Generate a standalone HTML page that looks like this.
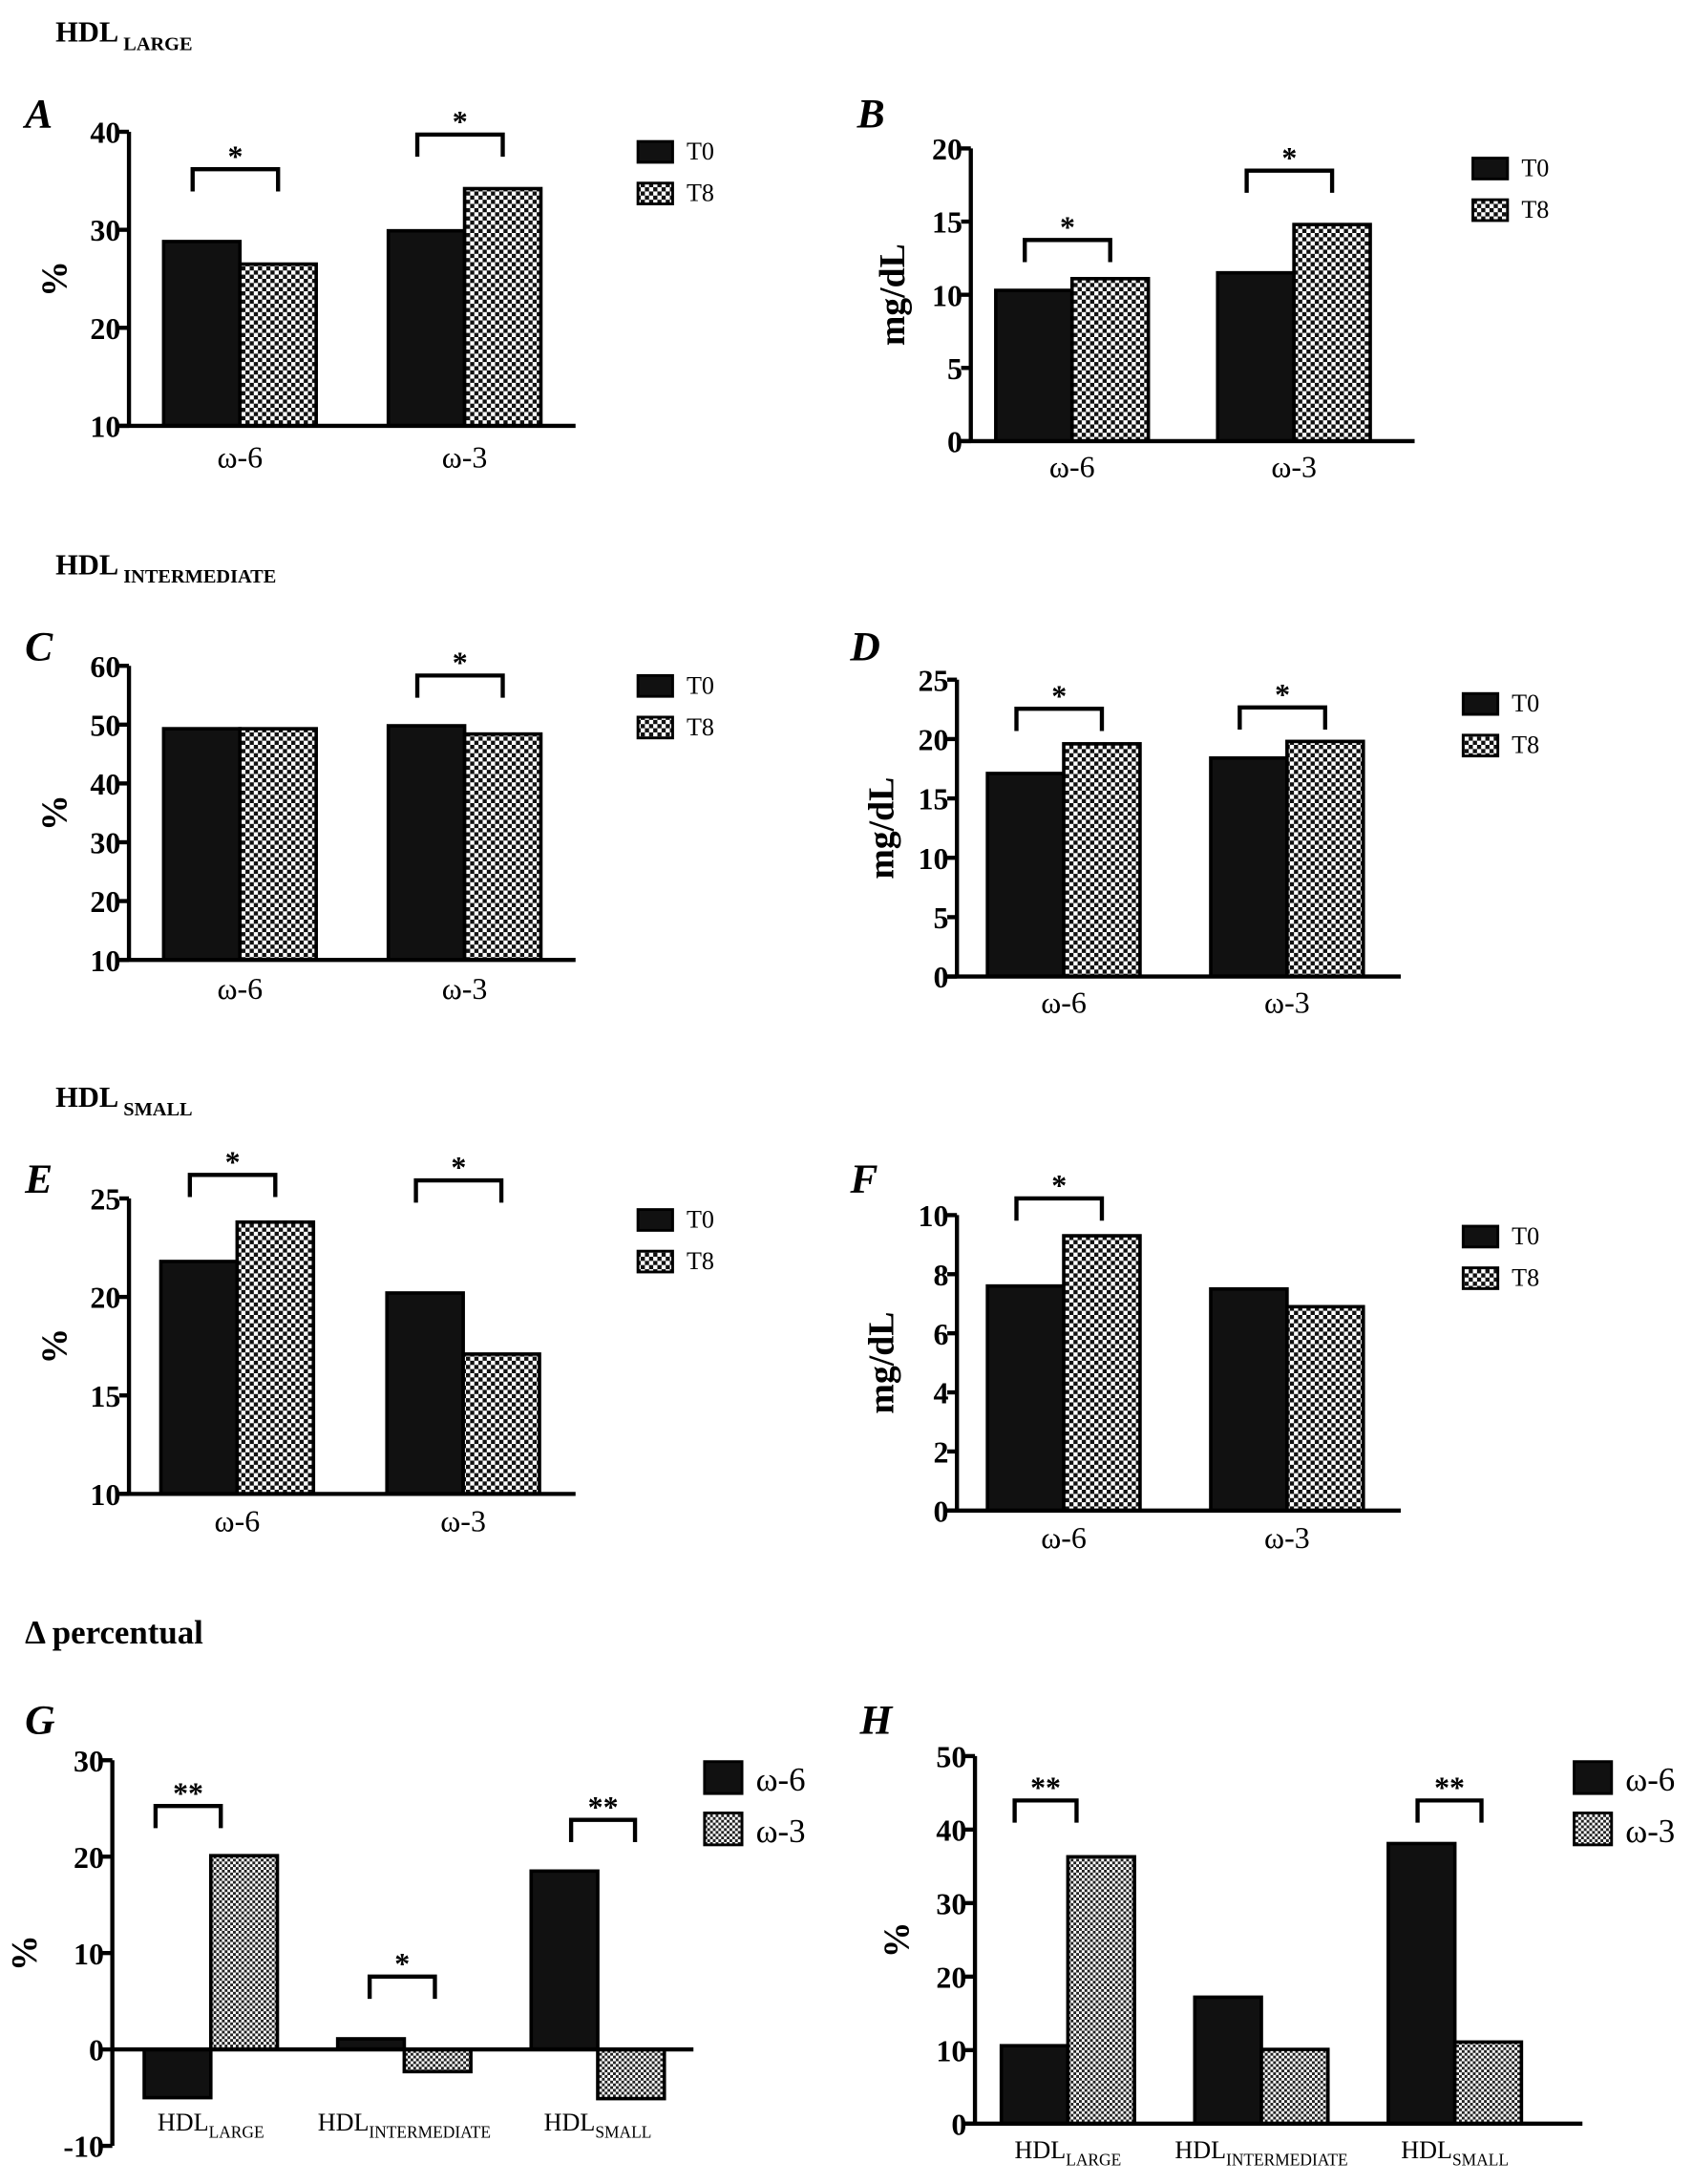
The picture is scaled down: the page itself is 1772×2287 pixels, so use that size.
<!DOCTYPE html>
<html><head><meta charset="utf-8"><style>
html,body{margin:0;padding:0;background:#fff;}
svg{display:block;}
text{font-family:"Liberation Serif",serif;fill:#000;}
</style></head><body>
<svg id="fig" width="1772" height="2287" viewBox="0 0 1220 1574.5" preserveAspectRatio="none" xmlns="http://www.w3.org/2000/svg">
<defs>
<pattern id="chk" width="6" height="6" patternUnits="userSpaceOnUse">
<rect width="6" height="6" fill="#fff"/><rect width="3" height="3" fill="#111"/><rect x="3" y="3" width="3" height="3" fill="#111"/>
</pattern>
<pattern id="dot" width="4" height="4" patternUnits="userSpaceOnUse">
<rect width="4" height="4" fill="#fff"/><rect width="2" height="2" fill="#222"/><rect x="2" y="2" width="2" height="2" fill="#222"/>
</pattern>
</defs>
<g><text x="40" y="30" font-size="21" font-weight="bold">HDL<tspan font-size="14" dy="6"> LARGE</tspan></text></g>
<g><text x="40" y="414" font-size="21" font-weight="bold">HDL<tspan font-size="14" dy="6"> INTERMEDIATE</tspan></text></g>
<g><text x="40" y="798" font-size="21" font-weight="bold">HDL<tspan font-size="14" dy="6"> SMALL</tspan></text></g>
<text x="18" y="1185" font-size="24" font-weight="bold">Δ percentual</text>
</svg>
<script>
const catsAB = ["ω-6","ω-3"];
const A_T0 = [28.8, 29.9];
const A_T8 = [26.5, 34.2];
const B_T0 = [10.3, 11.5];
const B_T8 = [11.1, 14.8];
const C_T0 = [49.3, 49.8];
const C_T8 = [49.3, 48.4];
const D_T0 = [17.1, 18.4];
const D_T8 = [19.6, 19.8];
const E_T0 = [21.8, 20.2];
const E_T8 = [23.8, 17.1];
const F_T0 = [7.6, 7.5];
const F_T8 = [9.3, 6.9];
const catsGH = ["LARGE","INTERMEDIATE","SMALL"];
const G_w6 = [-5.0, 1.1, 18.5];
const G_w3 = [20.1, -2.3, -5.1];
const H_w6 = [10.6, 17.2, 38.1];
const H_w3 = [36.3, 10.1, 11.1];
const ticksA = [10,20,30,40];
const ticksB = [0,5,10,15,20];
const ticksC = [10,20,30,40,50,60];
const ticksD = [0,5,10,15,20,25];
const ticksE = [10,15,20,25];
const ticksF = [0,2,4,6,8,10];
const ticksG = [-10,0,10,20,30];
const ticksH = [0,10,20,30,40,50];
const legTime = ["T0","T8"];
const legFA = ["ω-6","ω-3"];

const NS="http://www.w3.org/2000/svg";
const svg=document.getElementById('fig');
function mk(tag,attrs,parent){const e=document.createElementNS(NS,tag);for(const k in attrs)e.setAttribute(k,attrs[k]);(parent||svg).appendChild(e);return e;}

function panel(p){
  const g=mk('g',{});
  
  
  const y=v=>p.yBot-(v-p.ticks[0])/(p.ticks[p.ticks.length-1]-p.ticks[0])*(p.yBot-p.yTop);
  const base=y(p.base);
  const lt=mk('text',{x:p.letX,y:p.letY,'font-size':30,'font-weight':'bold','font-style':'italic'},g);lt.textContent=p.id;
  
  
  const yl=mk('text',{x:0,y:0,'font-size':p.ylFs,'font-weight':'bold','text-anchor':'middle',transform:`translate(${p.ylX},${(p.yTop+p.yBot)/2}) rotate(-90)`},g);yl.textContent=p.ylab;
  
  
  const n=p.s1.length;
  for(let i=0;i<n;i++){
    const x0=p.x0+i*p.gap;
    [[p.s1[i],'#111',0],[p.s2[i],p.pat,1]].forEach(([v,f,k])=>{
      const yy=y(v);
      const r=mk('rect',{x:x0+k*p.bw,y:Math.min(yy,base),width:p.bw,height:Math.abs(base-yy),fill:f,stroke:'#000','stroke-width':2.5},g);
      
      
    });
    if(p.cats===catsAB){
      const t=mk('text',{x:x0+p.bw,y:p.labY,'font-size':22,'text-anchor':'middle'},g);t.textContent=p.cats[i];
      
      
    } else {
      const t=mk('text',{x:x0+p.bw,y:p.labY,'font-size':18,'text-anchor':'middle'},g);
      t.innerHTML='HDL<tspan font-size="12" dy="5">'+p.cats[i]+'</tspan>';
      
      
    }
  }
  const ax=mk('line',{x1:p.ax,y1:p.yTop,x2:p.ax,y2:p.yBot,stroke:'#000','stroke-width':3},g);
  
  
  const bl=mk('line',{x1:p.ax-(p.base===p.ticks[0]?8:0),y1:base,x2:p.xEnd,y2:base,stroke:'#000','stroke-width':3},g);
  
  
  p.ticks.forEach(t=>{
    mk('line',{x1:p.ax-7,y1:y(t),x2:p.ax,y2:y(t),stroke:'#000','stroke-width':3},g);
    const tx=mk('text',{x:p.ax-6,y:y(t)+8,'font-size':22,'font-weight':'bold','text-anchor':'end'},g);tx.textContent=t;
    
    
  });
  p.br.forEach(b=>{
    const L=b.length>3?b[3]:p.brL, R=b.length>4?b[4]:p.brR;
    const x0=p.x0+b[0]*p.gap+p.bw*L, x1=p.x0+b[0]*p.gap+p.bw*R, ty=b[1];
    const pl=mk('polyline',{points:`${x0},${ty+16} ${x0},${ty} ${x1},${ty} ${x1},${ty+16}`,fill:'none',stroke:'#000','stroke-width':3},g);
    
    
    const s=mk('text',{x:(x0+x1)/2,y:ty-2,'font-size':22,'font-weight':'bold','text-anchor':'middle'},g);s.textContent=b[2];
    
    
  });
  p.leg.forEach((l,k)=>{
    const r=mk('rect',{x:p.lgX,y:p.lgY+k*p.lgStep,width:p.lgW,height:p.lgH,fill:k?p.pat:'#111',stroke:'#000','stroke-width':2},g);
    
    
    const t=mk('text',{x:p.lgX+p.lgW+10,y:p.lgY+k*p.lgStep+p.lgH-2,'font-size':p.lgFs},g);t.textContent=l;
    
    
  });
}
const L1={leg:legTime,lgW:25,lgH:15,lgStep:30,lgFs:18,pat:'url(#chk)',bw:55,cats:catsAB,ylFs:26,brL:0.38,brR:1.5};
panel(Object.assign({},L1,{id:'A',s1:A_T0,s2:A_T8,ticks:ticksA,base:10,yTop:95,yBot:307,ax:93,xEnd:415,x0:118,gap:162,labY:337,letX:18,letY:92,ylX:48,ylab:'%',lgX:460,lgY:102,br:[[0,122,'*'],[1,97,'*']]}));
panel(Object.assign({},L1,{id:'B',s1:B_T0,s2:B_T8,ticks:ticksB,base:0,yTop:107,yBot:318,ax:700,xEnd:1020,x0:718,gap:160,labY:344,letX:618,letY:92,ylX:652,ylab:'mg/dL',lgX:1062,lgY:114,br:[[0,173,'*'],[1,123,'*']]}));
panel(Object.assign({},L1,{id:'C',s1:C_T0,s2:C_T8,ticks:ticksC,base:10,yTop:480,yBot:692,ax:93,xEnd:415,x0:118,gap:162,labY:720,letX:18,letY:476,ylX:48,ylab:'%',lgX:460,lgY:487,br:[[1,487,'*']]}));
panel(Object.assign({},L1,{id:'D',s1:D_T0,s2:D_T8,ticks:ticksD,base:0,yTop:490,yBot:704,ax:690,xEnd:1010,x0:712,gap:161,labY:730,letX:613,letY:476,ylX:644,ylab:'mg/dL',lgX:1055,lgY:500,br:[[0,511,'*'],[1,510,'*']]}));
panel(Object.assign({},L1,{id:'E',s1:E_T0,s2:E_T8,ticks:ticksE,base:10,yTop:864,yBot:1077,ax:93,xEnd:415,x0:116,gap:163,labY:1104,letX:18,letY:860,ylX:48,ylab:'%',lgX:460,lgY:872,br:[[0,847,'*'],[1,851,'*']]}));
panel(Object.assign({},L1,{id:'F',s1:F_T0,s2:F_T8,ticks:ticksF,base:0,yTop:876,yBot:1089,ax:690,xEnd:1010,x0:712,gap:161,labY:1116,letX:613,letY:860,ylX:644,ylab:'mg/dL',lgX:1055,lgY:884,br:[[0,864,'*']]}));
const L2={leg:legFA,lgW:27,lgH:23,lgStep:37,lgFs:24,pat:'url(#dot)',bw:48,cats:catsGH,ylFs:26,brL:0.17,brR:1.15};
panel(Object.assign({},L2,{id:'G',s1:G_w6,s2:G_w3,ticks:ticksG,base:0,yTop:1269,yBot:1547,ax:81,xEnd:500,x0:104,gap:139.5,labY:1536,letX:18,letY:1250,ylX:26,ylab:'%',lgX:508,lgY:1270,br:[[0,1302,'**',0.17,1.15],[1,1425,'*',0.48,1.46],[2,1312,'**',0.6,1.56]]}));
panel(Object.assign({},L2,{id:'H',s1:H_w6,s2:H_w3,ticks:ticksH,base:0,yTop:1266,yBot:1531,ax:703,xEnd:1141,x0:722,gap:139.5,labY:1556,letX:620,letY:1250,ylX:655,ylab:'%',lgX:1135,lgY:1270,br:[[0,1298,'**',0.2,1.13],[2,1298,'**',0.44,1.4]]}));
</script>
</body></html>
